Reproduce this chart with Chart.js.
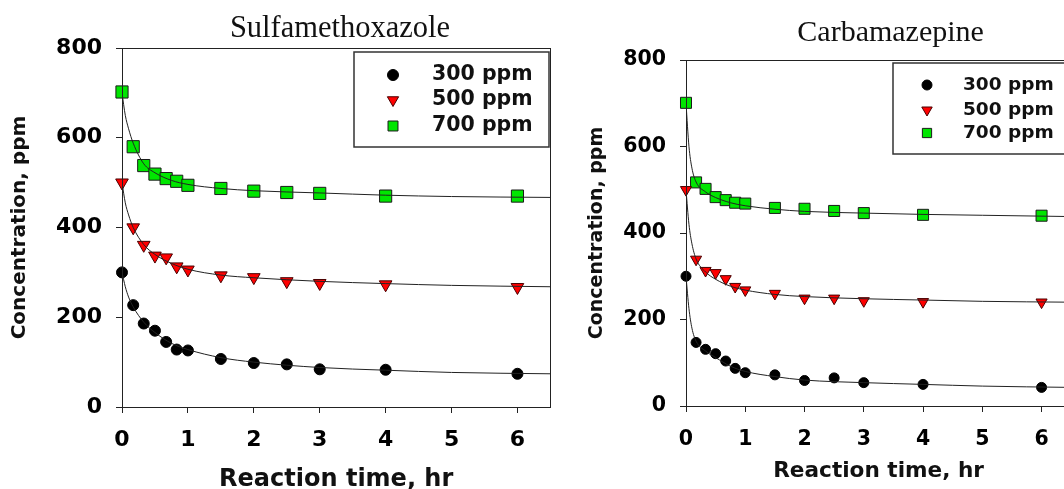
<!DOCTYPE html>
<html lang="en">
<head>
<meta charset="UTF-8">
<title>Concentration vs reaction time</title>
<script src="https://cdn.jsdelivr.net/npm/chart.js"></script>
<style>
  html, body { margin: 0; padding: 0; background: #fff; overflow: hidden; }
  .panel { position: absolute; top: 0; height: 489px; }
  #left { left: 0; width: 560px; }
  #right { left: 560px; width: 520px; }
</style>
</head>
<body>
<div class="panel" id="left"><canvas id="smxChart"></canvas></div>
<div class="panel" id="right"><canvas id="cbzChart"></canvas></div>

<script>
// sampling times (hr) and the points
const timeHr = [0, 0.17, 0.33, 0.5, 0.67, 0.83, 1, 1.5, 2, 2.5, 3, 4, 6];
const fitHr = [0, 0.05, 0.1, 0.17, 0.33, 0.5, 0.75, 1, 1.5, 2, 3, 4, 5, 6.5];
const doses = ['300 ppm', '500 ppm', '700 ppm'];
const xTicks = [0, 1, 2, 3, 4, 5, 6];
const yTicks = [0, 200, 400, 600, 800];

// Sulfamethoxazole
const smx300 = [300, 227, 186, 170, 145, 128, 126, 107, 98, 95, 84, 83, 74];
const smx500 = [500, 400, 361, 337, 333, 313, 306, 293, 289, 280, 276, 273, 267];
const smx700 = [702, 580, 538, 519, 509, 503, 494, 487, 481, 478, 476, 470, 470];
const smxFit300 = [300, 268, 245, 223, 189, 166, 142, 128, 110, 100, 88, 82, 77, 74];
const smxFit500 = [500, 455, 428, 400, 362, 340, 320, 307, 294, 288, 280, 275, 271, 268];
const smxFit700 = [700, 650, 620, 588, 542, 522, 505, 496, 487, 482, 477, 472, 469, 467];

// Carbamazepine
const cbz300 = [300, 147, 131, 121, 104, 87, 77, 72, 59, 65, 54, 50, 43];
const cbz500 = [500, 339, 313, 308, 294, 276, 268, 260, 249, 249, 243, 241, 240];
const cbz700 = [701, 517, 502, 483, 476, 470, 468, 458, 456, 451, 446, 442, 440];
const cbzFit300 = [300, 225, 180, 150, 127, 112, 92, 80, 68, 60, 54, 50, 46, 43];
const cbzFit500 = [500, 420, 375, 340, 310, 293, 277, 268, 258, 253, 248, 245, 242, 240];
const cbzFit700 = [700, 600, 550, 518, 495, 482, 470, 463, 455, 450, 446, 443, 441, 438];

const looks = [
  { style: 'circle',   fill: '#000000', line: '#000000', rot: 0 },
  { style: 'triangle', fill: '#ff0000', line: '#4a0000', rot: 180 },
  { style: 'rect',     fill: '#00e600', line: '#1a1a1a', rot: 0 }
];

const sans = '"DejaVu Sans", Verdana, sans-serif';
const serif = '"Liberation Serif", "Times New Roman", serif';

// frame, title and the boxed legend
const decorations = {
  id: 'decorations',
  afterDraw(chart, args, o) {
    const { ctx, chartArea: a } = chart;
    ctx.save();
    ctx.strokeStyle = '#222';
    ctx.lineWidth = 1;
    const l = Math.round(a.left) + 0.5, t = Math.round(a.top) + 0.5;
    const r = Math.round(a.right) + 0.5, b = Math.round(a.bottom) + 0.5;
    ctx.strokeRect(l, t, r - l, b - t);

    ctx.fillStyle = '#111';
    ctx.font = o.titleFont;
    ctx.textAlign = 'center';
    ctx.textBaseline = 'middle';
    ctx.fillText(o.title, o.titleX, o.titleY);

    const box = o.box;
    ctx.fillStyle = '#fff';
    ctx.fillRect(box.x, box.y, box.w, box.h);
    ctx.strokeStyle = '#333';
    ctx.lineWidth = 1.5;
    ctx.strokeRect(box.x, box.y, box.w, box.h);

    ctx.font = o.legendFont;
    ctx.textAlign = 'left';
    doses.forEach((label, i) => {
      const y = o.rowsY[i];
      const x = o.markerX;
      const s = o.legendSize[i];
      ctx.fillStyle = looks[i].fill;
      ctx.strokeStyle = looks[i].line;
      ctx.lineWidth = 1;
      ctx.beginPath();
      if (looks[i].style === 'circle') {
        ctx.arc(x, y, s, 0, Math.PI * 2);
      } else if (looks[i].style === 'triangle') {
        ctx.moveTo(x - s * 0.87, y - s * 0.5);
        ctx.lineTo(x + s * 0.87, y - s * 0.5);
        ctx.lineTo(x, y + s);
        ctx.closePath();
      } else {
        ctx.rect(x - s * 0.71, y - s * 0.71, s * 1.42, s * 1.42);
      }
      ctx.fill();
      ctx.stroke();
      ctx.fillStyle = '#111';
      ctx.fillText(label, o.textX, y);
    });
    ctx.restore();
  }
};

function buildChart(id, cfg) {
  const pointSets = cfg.points.map((vals, i) => ({
    label: doses[i],
    data: vals.map((v, k) => ({ x: timeHr[k], y: v })),
    showLine: false,
    pointStyle: looks[i].style,
    pointRotation: looks[i].rot,
    pointRadius: cfg.radius[i],
    pointHoverRadius: cfg.radius[i],
    backgroundColor: looks[i].fill,
    borderColor: looks[i].line,
    borderWidth: 1,
    clip: false,
    order: 2
  }));
  const fitSets = cfg.fits.map(vals => ({
    label: 'fit',
    data: vals.map((v, k) => ({ x: fitHr[k], y: v })),
    showLine: true,
    pointRadius: 0,
    pointHoverRadius: 0,
    borderColor: '#222',
    borderWidth: 1,
    cubicInterpolationMode: 'monotone',
    fill: false,
    order: 1
  }));

  const tickLine = { drawOnChartArea: false, drawTicks: true, tickLength: 6, color: '#222', lineWidth: 1 };

  new Chart(document.getElementById(id), {
    type: 'scatter',
    data: { datasets: [...pointSets, ...fitSets] },
    options: {
      responsive: true,
      maintainAspectRatio: false,
      animation: false,
      layout: { padding: { left: 0, top: cfg.top, right: cfg.right, bottom: 0 } },
      plugins: {
        legend: { display: false },
        tooltip: { enabled: false },
        decorations: cfg.deco
      },
      scales: {
        x: {
          type: 'linear',
          min: 0,
          max: 6.5,
          afterBuildTicks: s => { s.ticks = xTicks.map(v => ({ value: v })); },
          afterFit: s => { s.height = cfg.xHeight; },
          grid: tickLine,
          border: { color: '#222', width: 1 },
          ticks: { color: '#000', padding: cfg.xTickPad, font: { family: sans, weight: 'bold', size: cfg.tickSize } },
          title: {
            display: true,
            text: 'Reaction time, hr',
            color: '#111',
            font: { family: sans, weight: 'bold', size: cfg.xTitleSize },
            padding: { top: 0, bottom: cfg.xTitlePad }
          }
        },
        y: {
          type: 'linear',
          min: 0,
          max: 800,
          afterBuildTicks: s => { s.ticks = yTicks.map(v => ({ value: v })); },
          afterFit: s => { s.width = cfg.left; },
          grid: tickLine,
          border: { color: '#222', width: 1 },
          ticks: { color: '#000', padding: 14, font: { family: sans, weight: 'bold', size: cfg.tickSize } },
          title: {
            display: true,
            text: 'Concentration, ppm',
            color: '#111',
            font: { family: sans, weight: 'bold', size: cfg.yTitleSize },
            padding: { top: cfg.yTitlePad, bottom: 0 }
          }
        }
      }
    },
    plugins: [decorations]
  });
}

buildChart('smxChart', {
  points: [smx300, smx500, smx700],
  fits: [smxFit300, smxFit500, smxFit700],
  radius: [5.5, 7.3, 8.6],
  left: 122, top: 48, right: 6, xHeight: 82, xTickPad: 14,
  tickSize: 22, xTitleSize: 24, yTitleSize: 20, xTitlePad: -5, yTitlePad: 7.6,
  deco: {
    title: 'Sulfamethoxazole', titleFont: '30.5px ' + serif, titleX: 340, titleY: 29,
    box: { x: 354, y: 52, w: 195, h: 95 },
    rowsY: [75, 100, 126], markerX: 393, textX: 432,
    legendFont: 'bold 20.5px ' + sans, legendSize: [5.5, 6.5, 7]
  }
});

buildChart('cbzChart', {
  points: [cbz300, cbz500, cbz700],
  fits: [cbzFit300, cbzFit500, cbzFit700],
  radius: [5, 6.4, 7.8],
  left: 126, top: 60, right: 7.6, xHeight: 83, xTickPad: 15,
  tickSize: 20.5, xTitleSize: 21.6, yTitleSize: 19, xTitlePad: 4.5, yTitlePad: 25.6,
  deco: {
    title: 'Carbamazepine', titleFont: '30px ' + serif, titleX: 330.6, titleY: 33.4,
    box: { x: 333, y: 63, w: 200, h: 91 },
    rowsY: [85, 110, 133], markerX: 367, textX: 403,
    legendFont: 'bold 18.5px ' + sans, legendSize: [5, 6, 6.5]
  }
});
</script>
</body>
</html>
